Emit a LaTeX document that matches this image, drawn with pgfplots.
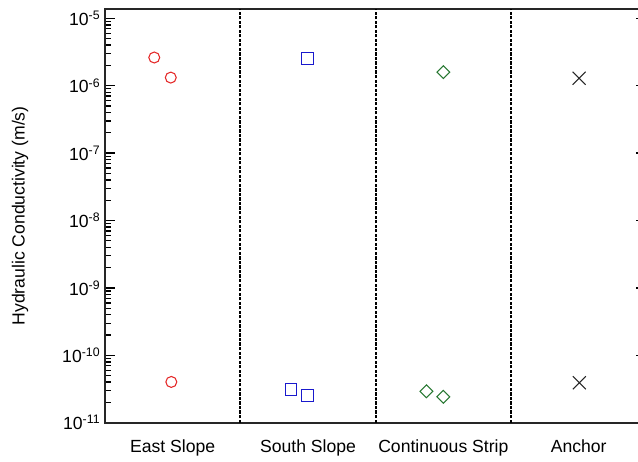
\documentclass[border=0pt]{standalone}
\usepackage{fontspec}
\setmainfont{Liberation Sans}
\usepackage{pgfplots}
\pgfplotsset{compat=1.18}
\definecolor{mred}{RGB}{228,40,40}
\definecolor{mblue}{RGB}{25,25,205}
\definecolor{mgreen}{RGB}{40,120,50}
\begin{document}
\begin{tikzpicture}[font=\fontsize{13.2}{15.8}\selectfont]
\begin{axis}[
  at={(0,0)}, anchor=south west,
  scale only axis, width=406pt, height=310.3pt,
  ymode=log, ymin=1e-11, ymax=1.374e-5,
  xmin=0, xmax=4,
  xtick={0.5,1.5,2.5,3.5},
  xticklabels={East Slope,South Slope,Continuous Strip,Anchor},
  major x tick style={draw=none},
  xticklabel style={yshift=-9.5pt},
  ytick={1e-11,1e-10,1e-9,1e-8,1e-7,1e-6,1e-5},
  yticklabels={10\textsuperscript{-11},10\textsuperscript{-10},10\textsuperscript{-9},10\textsuperscript{-8},10\textsuperscript{-7},10\textsuperscript{-6},10\textsuperscript{-5}},
  minor ytick={2e-11,3e-11,4e-11,5e-11,6e-11,7e-11,8e-11,9e-11,
    2e-10,3e-10,4e-10,5e-10,6e-10,7e-10,8e-10,9e-10,
    2e-9,3e-9,4e-9,5e-9,6e-9,7e-9,8e-9,9e-9,
    2e-8,3e-8,4e-8,5e-8,6e-8,7e-8,8e-8,9e-8,
    2e-7,3e-7,4e-7,5e-7,6e-7,7e-7,8e-7,9e-7,
    2e-6,3e-6,4e-6,5e-6,6e-6,7e-6,8e-6,9e-6},
  tick align=inside,
  major tick length=7.5pt, minor tick length=4.5pt,
  every tick/.style={black, line width=1pt},
  axis line style={black!85, line width=1.5pt},
  ylabel={Hydraulic Conductivity (m/s)},
  ylabel style={at={(axis description cs:-0.157,0.5)}, anchor=center},
  clip=false,
]
\addplot[black, line width=1.6pt, dash pattern=on 2.4pt off 1pt] coordinates {(1,1e-11) (1,1.374e-5)};
\addplot[black, line width=1.6pt, dash pattern=on 2.4pt off 1pt] coordinates {(2,1e-11) (2,1.374e-5)};
\addplot[black, line width=1.6pt, dash pattern=on 2.4pt off 1pt] coordinates {(3,1e-11) (3,1.374e-5)};
\addplot[only marks, mark=o, mark size=4.1pt, mred, mark options={line width=0.8pt}] coordinates {
  (0.364,2.62e-6) (0.486,1.32e-6) (0.490,4.03e-11)};
\addplot[only marks, mark=square, mark size=4.4pt, mblue, mark options={line width=0.8pt}] coordinates {
  (1.495,2.56e-6) (1.375,3.13e-11) (1.495,2.55e-11)};
\addplot[only marks, mark=square, mark size=3.4pt, mgreen, mark options={rotate=45, line width=0.8pt}] coordinates {
  (2.500,1.59e-6) (2.375,2.93e-11) (2.500,2.43e-11)};
\addplot[only marks, mark=x, mark size=6.9pt, black!85, mark options={line width=0.8pt}] coordinates {
  (3.503,1.29e-6) (3.505,3.93e-11)};
\end{axis}
\pgfresetboundingbox
\useasboundingbox (-78.75pt,-28.7pt) rectangle (399.75pt,317.05pt);
\end{tikzpicture}
\end{document}
